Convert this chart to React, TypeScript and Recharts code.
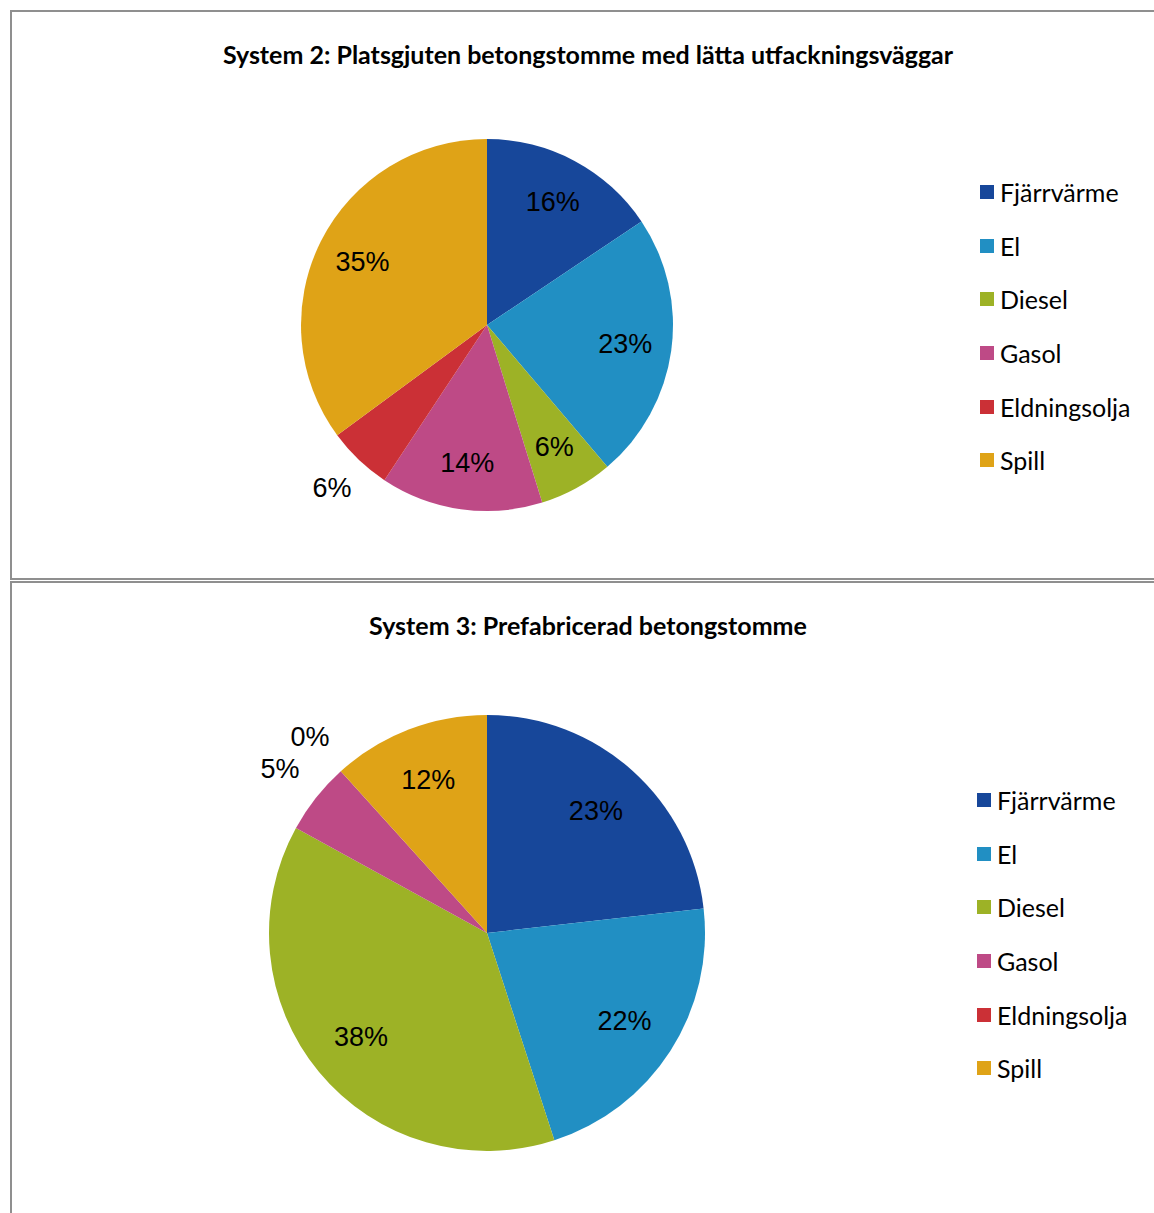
import { Cell, Legend, Pie, PieChart } from "recharts";

const categories = ["Fjärrvärme", "El", "Diesel", "Gasol", "Eldningsolja", "Spill"];
const colors = ["#17479A", "#218FC3", "#9DB226", "#BE4A86", "#CB3036", "#DFA317"];

const system2Values = [15.6, 23.2, 6.4, 14.1, 5.6, 35.1];
const system3Values = [23.2, 21.8, 38.0, 5.3, 0, 11.7];

const system2Title = "System 2: Platsgjuten betongstomme med lätta utfackningsväggar";
const system3Title = "System 3: Prefabricerad betongstomme";

// slices whose label sits outside the pie
const system2Outside = ["Eldningsolja"];
const system3Outside = ["Gasol", "Eldningsolja"];

const RAD = Math.PI / 180;
const TITLE_FONT = "Lato, 'Open Sans', sans-serif";
const LABEL_FONT = "'Liberation Sans', Arial, sans-serif";

function makeLabel(outside: string[]) {
	return (props: any) => {
		const { cx, cy, midAngle, outerRadius, percent, name } = props;
		const r = outside.includes(name) ? outerRadius * 1.21 : outerRadius * 0.75;
		const x = cx + r * Math.cos(-midAngle * RAD);
		const y = cy + r * Math.sin(-midAngle * RAD);
		return (
			<text
				x={x}
				y={y}
				textAnchor="middle"
				dominantBaseline="central"
				fill="#000"
				fontSize={27}
				fontFamily={LABEL_FONT}
			>
				{`${Math.round(percent * 100)}%`}
			</text>
		);
	};
}

function LegendList({ payload }: any) {
	const items = [...(payload ?? [])].sort(
		(a: any, b: any) => categories.indexOf(a.value) - categories.indexOf(b.value),
	);
	return (
		<div style={{ fontFamily: TITLE_FONT, fontSize: 25, color: "#000" }}>
			{items.map((p: any) => (
				<div
					key={p.value}
					style={{ display: "flex", alignItems: "center", height: 53.7 }}
				>
					<span
						style={{
							display: "inline-block",
							width: 14,
							height: 14,
							background: p.color,
							marginRight: 6,
						}}
					/>
					<span>{p.value}</span>
				</div>
			))}
		</div>
	);
}

interface PanelProps {
	title: string;
	values: number[];
	outside: string[];
	top: number;
	height: number;
	cy: number;
	radius: number;
	titleY: number;
	legendTop: number;
	legendLeft: number;
}

function PiePanel({
	title,
	values,
	outside,
	top,
	height,
	cy,
	radius,
	titleY,
	legendTop,
	legendLeft,
}: PanelProps) {
	const data = categories.map((name, i) => ({ name, value: values[i] }));
	return (
		<div style={{ position: "absolute", left: 0, top }}>
			<PieChart
				width={1154}
				height={height}
				margin={{ top: 0, right: 0, bottom: 0, left: 0 }}
			>
				<text
					x={588}
					y={titleY}
					textAnchor="middle"
					dominantBaseline="central"
					fontFamily={TITLE_FONT}
					fontWeight="bold"
					fontSize={25}
					fill="#000"
				>
					{title}
				</text>
				<Pie
					data={data}
					dataKey="value"
					nameKey="name"
					cx={487}
					cy={cy}
					outerRadius={radius}
					startAngle={90}
					endAngle={-270}
					stroke="none"
					label={makeLabel(outside)}
					labelLine={false}
					isAnimationActive={false}
				>
					{data.map((d, i) => (
						<Cell key={d.name} fill={colors[i]} />
					))}
				</Pie>
				<Legend
					layout="vertical"
					content={<LegendList />}
					wrapperStyle={{ position: "absolute", left: legendLeft, top: legendTop, width: 180 }}
				/>
			</PieChart>
		</div>
	);
}

export default function App() {
	return (
		<div
			style={{
				position: "absolute",
				left: 0,
				top: 0,
				width: 1154,
				height: 1213,
				overflow: "hidden",
				background: "#fff",
			}}
		>
			<div
				style={{
					position: "absolute",
					left: 10,
					top: 10,
					width: 1200,
					height: 566,
					border: "2px solid #8f8f8f",
				}}
			/>
			<div
				style={{
					position: "absolute",
					left: 10,
					top: 581,
					width: 1200,
					height: 700,
					border: "2px solid #8f8f8f",
				}}
			/>
			<PiePanel
				title={system2Title}
				values={system2Values}
				outside={system2Outside}
				top={0}
				height={578}
				cy={325}
				radius={186}
				titleY={54}
				legendTop={165}
				legendLeft={980}
			/>
			<PiePanel
				title={system3Title}
				values={system3Values}
				outside={system3Outside}
				top={580}
				height={633}
				cy={353}
				radius={218}
				titleY={45}
				legendTop={193}
				legendLeft={977}
			/>
		</div>
	);
}
